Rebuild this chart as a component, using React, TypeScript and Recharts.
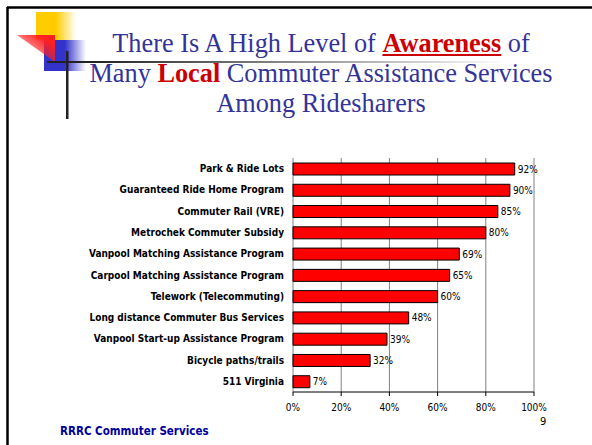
import React from "react";
import {
  BarChart,
  Bar,
  XAxis,
  YAxis,
  CartesianGrid,
  LabelList,
} from "recharts";

// services, top to bottom, and share of ridesharers aware of each (%)
const services = [
  "Park & Ride Lots",
  "Guaranteed Ride Home Program",
  "Commuter Rail (VRE)",
  "Metrochek Commuter Subsidy",
  "Vanpool Matching Assistance Program",
  "Carpool Matching Assistance Program",
  "Telework (Telecommuting)",
  "Long distance Commuter Bus Services",
  "Vanpool Start-up Assistance Program",
  "Bicycle paths/trails",
  "511 Virginia",
];
const awareness = [92, 90, 85, 80, 69, 65, 60, 48, 39, 32, 7];
const xTicks = [0, 20, 40, 60, 80, 100];
// category boundaries for the Excel-style ticks between bars
const edgeTicks = services.map((_, i) => i).concat(services.length);

const data = services.map((name, i) => ({ name, value: awareness[i] }));

const labelFont = "'DejaVu Sans Condensed', 'DejaVu Sans', sans-serif";

const Decoration = () => (
  <svg
    width={592}
    height={445}
    style={{ position: "absolute", left: 0, top: 0 }}
  >
    <defs>
      <linearGradient id="yel" x1="0" x2="1" y1="0" y2="0">
        <stop offset="0.5" stopColor="#FFCC00" />
        <stop offset="1" stopColor="#FFCC00" stopOpacity={0} />
      </linearGradient>
      <linearGradient id="red" x1="1" x2="0" y1="0" y2="1">
        <stop offset="0.2" stopColor="#FF2020" />
        <stop offset="1" stopColor="#FF2020" stopOpacity={0} />
      </linearGradient>
      <linearGradient id="blu" x1="0" x2="1" y1="0" y2="0">
        <stop offset="0.5" stopColor="#3333CC" />
        <stop offset="1" stopColor="#3333CC" stopOpacity={0} />
      </linearGradient>
      <linearGradient id="line" x1="0" x2="1" y1="0" y2="0">
        <stop offset="0.1" stopColor="#222" />
        <stop offset="1" stopColor="#222" stopOpacity={0} />
      </linearGradient>
    </defs>
    {/* slide frame */}
    <line x1={7} y1={7.5} x2={592} y2={7.5} stroke="#000" strokeWidth={2.5} />
    <line x1={7.5} y1={7} x2={7.5} y2={445} stroke="#000" strokeWidth={2.5} />
    <rect x={36} y={12} width={40} height={28} fill="url(#yel)" />
    <rect x={44} y={40} width={42} height={31} fill="url(#blu)" />
    <polygon points="17,35 55,35 55,62" fill="url(#red)" />
    <rect x={47} y={61} width={460} height={2} fill="url(#line)" />
    <rect x={66} y={51} width={2.5} height={68} fill="#222" />
  </svg>
);

export default function App() {
  return (
    <div
      style={{
        position: "fixed",
        left: 0,
        top: 0,
        width: 592,
        height: 445,
        background: "#fff",
        overflow: "hidden",
      }}
    >
      <Decoration />
      <div
        style={{
          position: "absolute",
          left: 21,
          top: 29,
          width: 600,
          textAlign: "center",
          fontFamily: "'Liberation Serif', 'Times New Roman', serif",
          fontSize: 26.3,
          lineHeight: "30px",
          color: "#333399",
        }}
      >
        There Is A High Level of{" "}
        <span style={{ color: "#CC0000", fontWeight: "bold", textDecoration: "underline" }}>
          Awareness
        </span>{" "}
        of
        <br />
        Many <span style={{ color: "#CC0000", fontWeight: "bold" }}>Local</span>{" "}
        Commuter Assistance Services
        <br />
        Among Ridesharers
      </div>

      <div style={{ position: "absolute", left: 0, top: 150 }}>
        <BarChart
          width={592}
          height={270}
          data={data}
          layout="vertical"
          margin={{ top: 8, right: 58, bottom: 0, left: 0 }}
          barSize={12}
        >
          <CartesianGrid horizontal={false} vertical stroke="#808080" />
          <XAxis
            type="number"
            domain={[0, 100]}
            ticks={xTicks}
            tickFormatter={(v) => `${v}%`}
            axisLine={{ stroke: "#000" }}
            tickLine={{ stroke: "#000" }}
            tickSize={4}
            tickMargin={8}
            height={28}
            interval={0}
            tick={{ fontSize: 10, fill: "#000", fontFamily: labelFont }}
          />
          <YAxis
            yAxisId="edges"
            type="number"
            domain={[0, services.length]}
            ticks={edgeTicks}
            tick={false}
            tickSize={4}
            width={0}
            axisLine={{ stroke: "#000" }}
            tickLine={{ stroke: "#000" }}
          />
          <YAxis
            yAxisId="cat"
            type="category"
            dataKey="name"
            width={293}
            axisLine={false}
            tickLine={false}
            tickSize={4}
            tickMargin={5}
            interval={0}
            tick={{
              fontSize: 10,
              fontWeight: "bold",
              fill: "#000",
              fontFamily: labelFont,
            }}
          />
          <Bar
            yAxisId="cat"
            dataKey="value"
            fill="#FF0000"
            stroke="#000"
            strokeWidth={1}
            isAnimationActive={false}
          >
            <LabelList
              dataKey="value"
              position="right"
              offset={3}
              formatter={(v: any) => `${v}%`}
              style={{ fontSize: 10, fill: "#000", fontFamily: labelFont }}
            />
          </Bar>
        </BarChart>
      </div>

      <div
        style={{
          position: "absolute",
          left: 60,
          top: 424,
          fontFamily: labelFont,
          fontWeight: "bold",
          fontSize: 11.5,
          color: "#000099",
        }}
      >
        RRRC Commuter Services
      </div>
      <div
        style={{
          position: "absolute",
          left: 540,
          top: 415,
          fontFamily: labelFont,
          fontSize: 11,
          color: "#000",
        }}
      >
        9
      </div>
    </div>
  );
}
